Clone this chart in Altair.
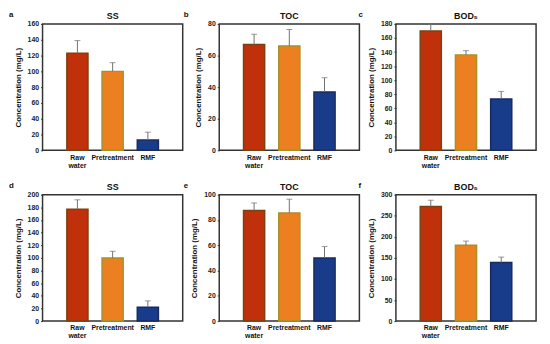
import altair as alt
import pandas as pd

categories = ["Raw water", "Pretreatment", "RMF"]
fill_colors = ["#C0300A", "#EC8020", "#183C8A"]
stroke_colors = ["#7A4212", "#A89028", "#1A2A60"]

# Row 1
ss1_vals = [123, 100, 13]
ss1_errs = [16, 11, 10]
toc1_vals = [67, 66, 37]
toc1_errs = [6.5, 10.5, 9]
bod1_vals = [170, 136, 73]
bod1_errs = [10, 6, 11]
# Row 2
ss2_vals = [177, 100, 22]
ss2_errs = [15, 10.5, 10]
toc2_vals = [87.5, 85.5, 50]
toc2_errs = [6, 11, 9]
bod2_vals = [272, 180, 139]
bod2_errs = [15, 10, 13]

FONT = "Liberation Sans"
ERR_COLOR = "#707070"
W, H = 142, 128


def panel(letter, title, vals, errs, ymax, step, loff):
    df = pd.DataFrame({"cat": categories, "val": vals, "err": errs})
    df["top"] = df["val"] + df["err"]
    base = alt.Chart(df)
    xscale = alt.Scale(domain=categories, paddingInner=0.4, paddingOuter=0.69)
    xaxis = alt.Axis(
        title=None,
        labelAngle=0,
        ticks=False,
        domain=False,
        labelFont=FONT,
        labelFontSize=7,
        labelFontWeight="bold",
        labelColor="#111",
        labelPadding=3,
        labelLineHeight=8,
        labelOverlap=False,
        labelExpr="datum.value == 'Raw water' ? ['Raw', 'water'] : datum.value",
    )
    yscale = alt.Scale(domain=[0, ymax], nice=False, zero=True)
    yaxis = alt.Axis(
        title="Concentration (mg/L)",
        values=list(range(0, ymax + 1, step)),
        tickCount=len(range(0, ymax + 1, step)),
        grid=False,
        domain=False,
        tickSize=2,
        tickColor="#333",
        labelFont=FONT,
        labelFontSize=7,
        labelFontWeight="bold",
        labelColor="#222",
        labelPadding=2,
        labelOverlap=False,
        labelFlush=False,
        titleFont=FONT,
        titleFontSize=8,
        titleFontWeight="bold",
        titleColor="#111",
        titlePadding=5,
    )
    x = alt.X("cat:N", sort=categories, scale=xscale, axis=xaxis)
    bars = base.mark_bar(strokeWidth=1.5).encode(
        x=x,
        y=alt.Y("val:Q", scale=yscale, axis=yaxis),
        color=alt.Color("cat:N", scale=alt.Scale(domain=categories, range=fill_colors), legend=None),
        stroke=alt.Stroke("cat:N", scale=alt.Scale(domain=categories, range=stroke_colors), legend=None),
    )
    rule = base.mark_rule(color=ERR_COLOR, strokeWidth=1).encode(
        x=x, y=alt.Y("val:Q", scale=yscale, axis=yaxis), y2="top:Q"
    )
    cap = base.mark_tick(color=ERR_COLOR, thickness=1, size=6).encode(
        x=x, y=alt.Y("top:Q", scale=yscale, axis=yaxis)
    )
    lt = alt.Chart(pd.DataFrame({"t": [letter]})).mark_text(
        font=FONT, fontSize=8, fontWeight="bold", align="left", baseline="middle", color="#111"
    ).encode(x=alt.value(loff), y=alt.value(-9), text="t:N")
    tt = alt.Chart(pd.DataFrame({"t": [title]})).mark_text(
        font=FONT, fontSize=9, fontWeight="bold", align="center", baseline="middle", color="#111"
    ).encode(x=alt.value(W / 2), y=alt.value(-8), text="t:N")
    return alt.layer(bars, rule, cap, lt, tt).properties(
        width=W, height=H
    ).resolve_scale(color="independent", stroke="independent")


panels = [
    panel("a", "SS", ss1_vals, ss1_errs, 160, 20, -34),
    panel("b", "TOC", toc1_vals, toc1_errs, 80, 20, -36),
    panel("c", "BOD₅", bod1_vals, bod1_errs, 180, 20, -38),
    panel("d", "SS", ss2_vals, ss2_errs, 200, 20, -34),
    panel("e", "TOC", toc2_vals, toc2_errs, 100, 20, -36),
    panel("f", "BOD₅", bod2_vals, bod2_errs, 300, 50, -38),
]

chart = alt.concat(
    *panels, columns=3, spacing={"row": 45, "column": 37}, bounds="flush"
).resolve_scale(x="independent", y="independent").properties(
    padding={"left": 0, "top": 0, "right": 5, "bottom": 2},
    background="white",
).configure_view(stroke="#333", strokeWidth=1.5)

chart.save("out.html", embed_options={"renderer": "svg", "actions": False})
